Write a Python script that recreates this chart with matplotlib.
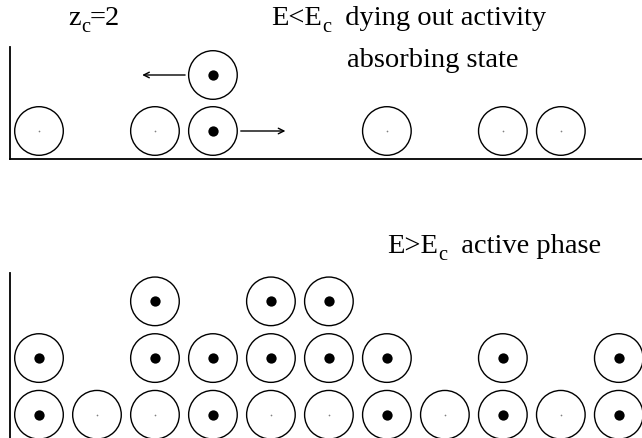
import numpy as np
import matplotlib
matplotlib.use("Agg")
import matplotlib.pyplot as plt

plt.rcParams["font.family"] = ["Liberation Serif", "DejaVu Serif"]

# lattice sites: column, row, 1 = active (grain with energy), 0 = empty
top_cols = [0, 2, 3, 6, 8, 9, 3]
top_rows = [0, 0, 0, 0, 0, 0, 1]
top_active = [0, 0, 1, 0, 0, 0, 1]

bot_cols = [0, 1, 2, 3, 4, 5, 6, 7, 8, 9, 10,
            0, 2, 3, 4, 5, 6, 8, 10,
            2, 4, 5]
bot_rows = [0] * 11 + [1] * 8 + [2] * 3
bot_active = [1, 0, 0, 1, 0, 0, 1, 0, 1, 0, 1,
              1, 1, 1, 1, 1, 1, 1, 1,
              1, 1, 1]

W, H = 642, 439
fig = plt.figure(figsize=(W / 100, H / 100), dpi=100)


def box(left, top, right, bottom):
    # pixel box (from top-left) -> figure fraction
    return [left / W, 1 - bottom / H, (right - left) / W, (bottom - top) / H]


def draw_sites(ax, cols, rows, active):
    cols = np.array(cols)
    rows = np.array(rows)
    active = np.array(active, dtype=bool)
    ax.scatter(cols, rows, s=1225, facecolors="none", edgecolors="black", linewidths=1.0)
    ax.scatter(cols[active], rows[active], s=55, color="black", linewidths=0)
    ax.scatter(cols[~active], rows[~active], s=1.5, color="gray", linewidths=0)


ax1 = fig.add_axes(box(10, 48, 642, 160))
ax2 = fig.add_axes(box(10, 274, 642, 439))

draw_sites(ax1, top_cols, top_rows, top_active)
draw_sites(ax2, bot_cols, bot_rows, bot_active)

ax1.set_xlim(-0.5, 10.4)
ax1.set_ylim(-0.5, 1.5)
ax2.set_xlim(-0.5, 10.4)
ax2.set_ylim(-0.41, 2.5)

for ax in (ax1, ax2):
    ax.set_xticks([])
    ax.set_yticks([])
    ax.spines["top"].set_visible(False)
    ax.spines["right"].set_visible(False)
    for s in ax.spines.values():
        s.set_linewidth(1.3)
ax2.spines["bottom"].set_visible(False)

# toppling arrows
arrow = dict(arrowstyle="->", lw=1.0, color="black", shrinkA=0, shrinkB=0)
ax1.annotate("", xy=(1.78, 1), xytext=(2.52, 1), arrowprops=arrow)
ax1.annotate("", xy=(4.25, 0), xytext=(3.48, 0), arrowprops=arrow)

fs = 20.5


def label(x, y, main, sub="", rest=""):
    # text with a dropped subscript, placed by pixel position of its baseline
    t1 = fig.text(x / W, 1 - y / H, main, fontsize=fs, va="baseline")
    if not sub:
        return
    t2 = ax1.annotate(sub, xy=(1, 0), xycoords=t1, xytext=(0.3, -4),
                      textcoords="offset points", fontsize=fs * 0.72,
                      va="bottom", ha="left", annotation_clip=False)
    ax1.annotate(rest, xy=(1, 0), xycoords=(t2, t1), fontsize=fs,
                 va="bottom", ha="left", annotation_clip=False)


label(68, 25, "z", "c", "=2")
label(271, 25, "E<E", "c", "  dying out activity")
label(347, 67, "absorbing state")
label(387, 253, "E>E", "c", "  active phase")

fig.savefig("out.png", dpi=100)
